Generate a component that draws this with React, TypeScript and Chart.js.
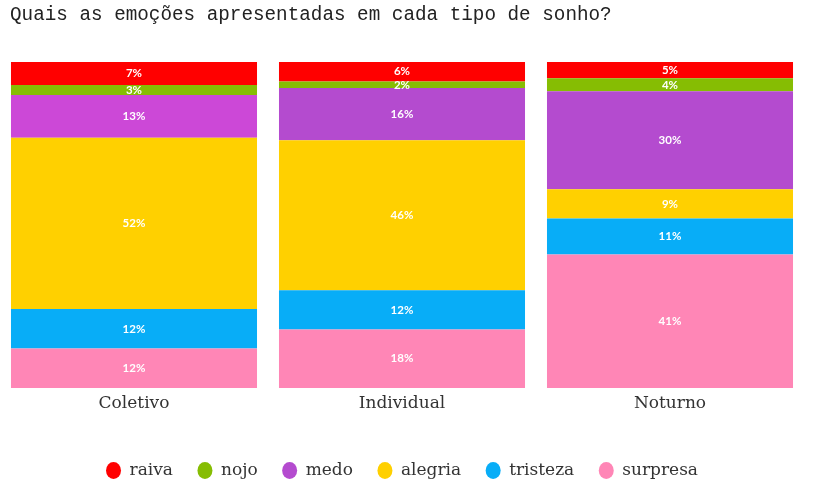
import { useEffect, useRef } from 'react'
import { Chart, registerables } from 'chart.js'

Chart.register(...registerables)

const categories = ['Coletivo', 'Individual', 'Noturno']
const emotions = ['raiva', 'nojo', 'medo', 'alegria', 'tristeza', 'surpresa']
const raiva = [7, 6, 5]
const nojo = [3, 2, 4]
const medo = [13, 16, 30]
const alegria = [52, 46, 9]
const tristeza = [12, 12, 11]
const surpresa = [12, 18, 41]
const colors = ['#ff0000', '#86bd03', '#b44bcf', '#ffd000', '#08adf7', '#ff86b6']
const medoColors = ['#cc48d7', '#b44bcf', '#b44bcf']

const series = [raiva, nojo, medo, alegria, tristeza, surpresa]
const totals = categories.map((_, i) => series.reduce((s, arr) => s + arr[i], 0))

const labelFont = "'DejaVu Serif', 'Liberation Serif', serif"

// white percentage labels in the middle of each segment
const segmentLabels = {
  id: 'segmentLabels',
  afterDatasetsDraw(chart: Chart) {
    const ctx = chart.ctx
    ctx.save()
    ctx.fillStyle = '#ffffff'
    ctx.font = "bold 11.5px Lato, 'DejaVu Sans', sans-serif"
    ctx.textAlign = 'center'
    ctx.textBaseline = 'middle'
    chart.data.datasets.forEach((ds: any, di: number) => {
      const meta = chart.getDatasetMeta(di)
      meta.data.forEach((el: any, i: number) => {
        const y = (el.y + el.base) / 2
        ctx.fillText(ds.raw[i] + '%', el.x, y)
      })
    })
    ctx.restore()
  },
}

export default function App() {
  const canvasRef = useRef<HTMLCanvasElement>(null)

  useEffect(() => {
    if (!canvasRef.current) return
    // bottom of the stack first: surpresa ... raiva
    const datasets = series
      .map((arr, k) => ({
        label: emotions[k],
        raw: arr,
        data: arr.map((v, i) => (v / totals[i]) * 100),
        backgroundColor: k === 2 ? medoColors : colors[k],
        borderWidth: 0,
        categoryPercentage: 1,
        barPercentage: 0.918,
      }))
      .reverse()

    const chart = new Chart(canvasRef.current, {
      type: 'bar',
      data: { labels: categories, datasets: datasets as any },
      options: {
        animation: false,
        responsive: false,
        layout: { padding: { top: 62, left: 0, right: 15, bottom: 3 } },
        plugins: {
          tooltip: { enabled: false },
          legend: {
            position: 'bottom',
            reverse: true,
            labels: {
              usePointStyle: true,
              pointStyle: 'circle',
              boxHeight: 12,
              pointStyleWidth: 15,
              padding: 24.5,
              color: '#333333',
              font: { family: labelFont, size: 17 },
              generateLabels: (c: Chart) =>
                c.data.datasets.map((ds: any, i: number) => ({
                  text: ds.label,
                  fillStyle: colors[emotions.indexOf(ds.label)],
                  strokeStyle: colors[emotions.indexOf(ds.label)],
                  lineWidth: 0,
                  pointStyle: 'circle',
                  datasetIndex: i,
                  fontColor: '#333333',
                })),
            },
          },
        },
        scales: {
          x: {
            stacked: true,
            grid: { display: false, drawTicks: false },
            border: { display: false },
            ticks: { color: '#333333', padding: 5, font: { family: labelFont, size: 17 } },
            afterFit: (scale: any) => {
              scale.height += 19
            },
          },
          y: {
            stacked: true,
            display: false,
            min: 0,
            max: 100,
          },
        },
      },
      plugins: [segmentLabels],
    })
    return () => {
      chart.destroy()
    }
  }, [])

  return (
    <div style={{ position: 'absolute', left: 0, top: 0, width: 819, height: 492, background: '#fff' }}>
      <div
        style={{
          position: 'absolute',
          left: 10,
          top: 4,
          fontFamily: "'Liberation Mono', 'DejaVu Sans Mono', monospace",
          fontSize: 19.3,
          color: '#222',
          whiteSpace: 'nowrap',
        }}
      >
        Quais as emoções apresentadas em cada tipo de sonho?
      </div>
      <canvas ref={canvasRef} width={819} height={492} style={{ display: 'block' }} />
    </div>
  )
}
